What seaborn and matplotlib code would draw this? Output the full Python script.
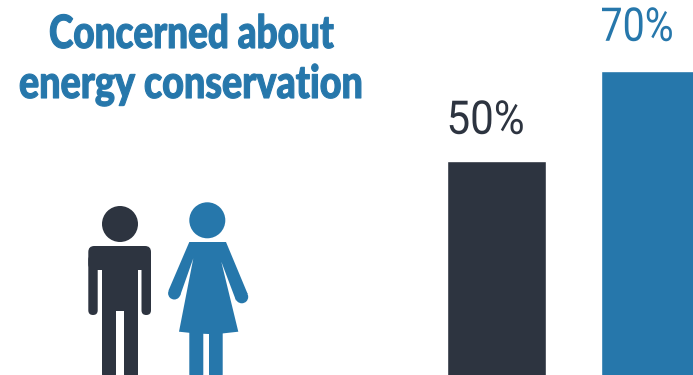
import matplotlib
matplotlib.use("Agg")
import matplotlib.pyplot as plt
import pandas as pd
import seaborn as sns
from matplotlib.patches import Circle, FancyBboxPatch, Polygon, Rectangle
from matplotlib.patheffects import AbstractPathEffect
from matplotlib.text import Text
from matplotlib.transforms import Affine2D

groups = ["Men", "Women"]
shares = [50, 70]
share_labels = ["50%", "70%"]
title_lines = ["Concerned about", "energy conservation"]

DARK = "#2d3440"
BLUE = "#2677ab"
W, H = 693, 375


class SqueezeX(AbstractPathEffect):
    """Scale glyph outlines horizontally about a fixed display x, with an optional outline."""

    def __init__(self, owner, embolden=0.0):
        super().__init__()
        self.owner = owner
        self.embolden = embolden

    def draw_path(self, renderer, gc, tpath, affine, rgbFace=None):
        cx, sx = self.owner.anchor_and_scale()
        squeeze = Affine2D().translate(-cx, 0).scale(sx, 1).translate(cx, 0)
        gc0 = renderer.new_gc()
        gc0.copy_properties(gc)
        gc0.set_linewidth(self.embolden)
        gc0.set_foreground(rgbFace)
        renderer.draw_path(gc0, tpath, affine + squeeze, rgbFace)
        gc0.restore()


class NarrowText(Text):
    """Left-anchored text condensed to a given width in pixels (no condensed face is installed)."""

    def __init__(self, *args, fit_width, embolden=0.0, **kwargs):
        super().__init__(*args, ha="left", va="baseline", **kwargs)
        self.fit_width = fit_width
        self.set_path_effects([SqueezeX(self, embolden)])

    def anchor_and_scale(self):
        cx = self.get_transform().transform(self.get_position())[0]
        return cx, self.fit_width / super().get_window_extent().width


sns.set_theme(style="white")

fig = plt.figure(figsize=(W / 100, H / 100), dpi=100, facecolor="white")
ax = fig.add_axes([0, 0, 1, 1])
df = pd.DataFrame({"group": groups, "share": shares})
sns.barplot(data=df, x="group", y="share", hue="group", palette=[DARK, BLUE],
            width=0.64, legend=False, ax=ax, saturation=1)
ax.set_xlim(-3.224, 1.276)
ax.set_ylim(2.40, 85.73)
ax.axis("off")

# Overlay in pixel units for the text and the two figures
ov = fig.add_axes([0, 0, 1, 1], facecolor="none")
ov.set_xlim(0, W)
ov.set_ylim(H, 0)
ov.axis("off")

fig.canvas.draw()
label_offsets = [(-50, 27), (-50, 30)]
label_widths = [78, 73]
for i, (v, lab, col) in enumerate(zip(shares, share_labels, [DARK, BLUE])):
    px, py = ax.transData.transform((i, v))
    dx, dy = label_offsets[i]
    ov.add_artist(NarrowText(px + dx, H - py - dy, lab, fit_width=label_widths[i],
                             fontsize=33.5, color=col, family="Roboto",
                             transform=ov.transData))

for line, left, base, width in zip(title_lines, [49, 19], [48, 98], [285, 344]):
    ov.add_artist(NarrowText(left, base, line, fit_width=width, fontsize=33,
                             family="Lato", fontweight="black", color=BLUE, embolden=0.8,
                             transform=ov.transData))


def rounded(x0, y0, x1, y1, r, color):
    ov.add_patch(FancyBboxPatch((x0 + r, y0 + r), x1 - x0 - 2 * r, y1 - y0 - 2 * r,
                                boxstyle=f"round,pad={r},rounding_size={r}",
                                fc=color, ec="none"))


# Man
ov.add_patch(Circle((120, 224), 18, fc=DARK, ec="none"))
rounded(88.3, 246, 151, 270, 6, DARK)
rounded(88.3, 255, 97.7, 315, 4.7, DARK)
rounded(141.5, 255, 151, 315, 4.7, DARK)
ov.add_patch(Rectangle((102, 255), 36, 56, fc=DARK, ec="none"))
rounded(102, 300, 116, 381, 7, DARK)
rounded(124, 300, 138, 381, 7, DARK)

# Woman
ov.add_patch(Circle((207.3, 220.3), 18, fc=BLUE, ec="none"))
ov.add_patch(Polygon([(189.3, 242), (226, 242), (247.7, 294), (236, 300.5), (221.3, 261.7),
                      (238.3, 331.7), (222, 333.5), (209, 334), (196, 333.5), (179, 331.7),
                      (193.3, 258.3), (180, 296), (168.5, 290.5)],
                     fc=BLUE, ec="none"))
ov.add_patch(Circle((174.3, 293.3), 6.2, fc=BLUE, ec="none"))
ov.add_patch(Circle((241.8, 296.9), 6.4, fc=BLUE, ec="none"))
rounded(189.3, 320, 203.3, 381, 7, BLUE)
rounded(209, 320, 222.7, 381, 7, BLUE)

fig.savefig("out.png", dpi=100, facecolor="white")
